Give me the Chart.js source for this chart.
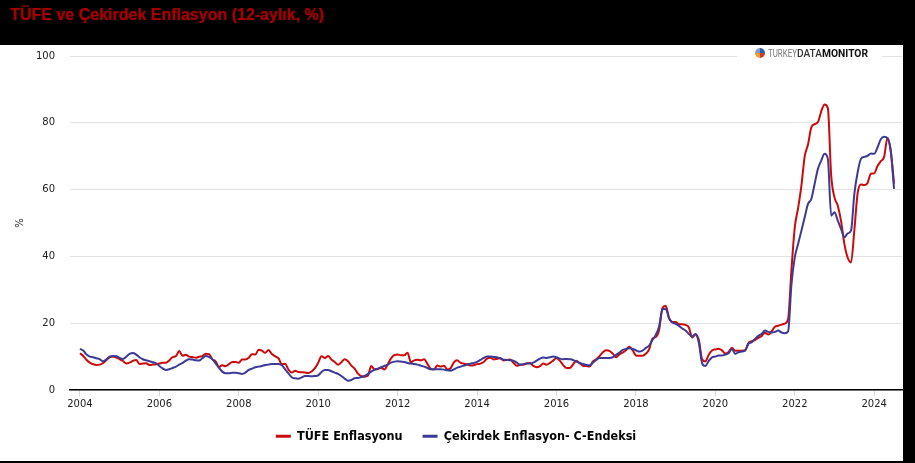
<!DOCTYPE html>
<html>
<head>
<meta charset="utf-8">
<script src="https://cdn.jsdelivr.net/npm/chart.js@4.4.1/dist/chart.umd.min.js"></script>
<style>
  html, body { margin: 0; padding: 0; background: #000; }
  body { width: 915px; height: 463px; position: relative; overflow: hidden; }
  #title {
    position: absolute; left: 10px; top: 6px;
    font: bold 16px "Liberation Sans", Arial, sans-serif;
    color: #a40000; text-shadow: 0 0 1px #500;
  }
  #panel { position: absolute; left: 0; top: 45px; width: 903px; height: 416px; background: #fff; }
</style>
</head>
<body>
<div id="title">TÜFE ve Çekirdek Enflasyon (12-aylık, %)</div>
<div id="panel"><canvas id="infChart" width="903" height="416"></canvas></div>
<script>
var startYear = 2004;
var xTicks = [2004, 2006, 2008, 2010, 2012, 2014, 2016, 2018, 2020, 2022, 2024];
var yTicks = [0, 20, 40, 60, 80, 100];

// TÜFE Enflasyonu, aylık, Ocak 2004 - Temmuz 2024
var tufe = [
  11.0, 10.2, 9.0, 8.2, 7.7, 7.5, 7.6, 8.1, 9.0, 9.8, 10.0, 9.7,
  9.24, 8.69, 7.94, 8.18, 8.70, 8.95, 7.82, 7.91, 7.99, 7.52, 7.61, 7.72,
  7.93, 8.15, 8.16, 8.83, 9.86, 10.12, 11.69, 10.26, 10.55, 9.98, 9.86, 9.65,
  9.93, 10.16, 10.86, 10.72, 9.23, 8.60, 6.90, 7.39, 7.12, 7.70, 8.40, 8.39,
  8.17, 9.10, 9.15, 9.66, 10.74, 10.61, 12.06, 11.77, 11.13, 11.99, 10.76, 10.06,
  9.50, 7.73, 7.89, 6.13, 5.24, 5.73, 5.39, 5.33, 5.27, 5.08, 5.53, 6.53,
  8.19, 10.13, 9.56, 10.19, 9.10, 8.37, 7.58, 8.33, 9.24, 8.62, 7.29, 6.40,
  4.90, 4.16, 3.99, 4.26, 7.17, 6.24, 6.31, 6.65, 6.15, 7.66, 9.48, 10.45,
  10.61, 10.43, 10.43, 11.14, 8.28, 8.87, 9.07, 8.88, 9.19, 7.80, 6.37, 6.16,
  7.31, 7.03, 7.29, 6.13, 6.51, 8.30, 8.88, 8.17, 7.88, 7.71, 7.32, 7.40,
  7.75, 7.89, 8.39, 9.38, 9.66, 9.16, 9.32, 9.54, 8.86, 8.96, 9.15, 8.17,
  7.24, 7.55, 7.61, 7.91, 8.09, 7.20, 6.81, 7.14, 7.95, 7.58, 8.10, 8.81,
  9.58, 8.78, 7.46, 6.57, 6.58, 7.64, 8.79, 8.05, 7.28, 7.16, 7.00, 8.53,
  9.22, 10.13, 11.29, 11.87, 11.72, 10.90, 9.79, 10.68, 11.20, 11.90, 12.98, 11.92,
  10.35, 10.26, 10.23, 10.85, 12.15, 15.39, 15.85, 17.90, 24.52, 25.24, 21.62, 20.30,
  20.35, 19.67, 19.71, 19.50, 18.71, 15.72, 16.65, 15.01, 9.26, 8.55, 10.56, 11.84,
  12.15, 12.37, 11.86, 10.94, 11.39, 12.62, 11.76, 11.77, 11.75, 11.89, 14.03, 14.60,
  14.97, 15.61, 16.19, 17.14, 16.59, 17.53, 18.95, 19.25, 19.58, 19.89, 21.31, 36.08,
  48.69, 54.44, 61.14, 69.97, 73.50, 78.62, 79.60, 80.21, 83.45, 85.51, 84.39, 64.27,
  57.68, 55.18, 50.51, 43.68, 39.59, 38.21, 47.83, 58.94, 61.53, 61.36, 61.98, 64.77,
  64.86, 67.07, 68.50, 69.80, 75.45, 71.60, 61.78
];

// Çekirdek Enflasyon (C endeksi)
var cekirdek = [
  12.3, 11.8, 10.6, 10.0, 9.8, 9.5, 9.2, 8.6, 9.2, 10.0, 10.2, 10.1,
  9.6, 9.3, 10.0, 10.8, 11.1, 10.6, 9.8, 9.2, 8.9, 8.6, 8.3, 8.0,
  7.2, 6.5, 6.0, 6.2, 6.6, 7.0, 7.6, 8.1, 8.8, 9.2, 9.1, 8.9,
  8.8, 9.5, 10.2, 9.9, 9.2, 8.0, 6.6, 5.5, 5.0, 5.0, 5.2, 5.2,
  5.0, 4.8, 5.2, 6.0, 6.4, 6.8, 7.0, 7.2, 7.5, 7.6, 7.8, 7.8,
  7.8, 7.4, 6.2, 5.0, 3.8, 3.5, 3.4, 3.8, 4.2, 4.2, 4.1, 4.2,
  4.4, 5.4, 6.0, 6.0, 5.6, 5.2, 4.8, 4.2, 3.4, 2.8, 3.0, 3.5,
  3.6, 3.9, 4.2, 4.8, 5.5, 6.0, 6.4, 6.8, 7.2, 7.6, 8.2, 8.5,
  8.6, 8.5, 8.4, 8.1, 7.9, 7.8, 7.6, 7.3, 7.0, 6.6, 6.2, 6.2,
  6.2, 6.2, 6.1, 5.9, 5.8, 6.2, 6.7, 7.0, 7.3, 7.6, 7.9, 8.1,
  8.4, 9.0, 9.6, 10.0, 10.0, 9.9, 9.8, 9.5, 9.1, 9.0, 8.9, 8.8,
  8.2, 7.6, 7.7, 8.0, 7.9, 8.2, 8.8, 9.4, 9.7, 9.6, 9.8, 10.0,
  9.8, 9.4, 9.2, 9.3, 9.2, 9.0, 8.5, 8.1, 7.8, 7.5, 7.4, 8.2,
  9.0, 9.6, 9.6, 9.6, 9.6, 9.8, 10.5, 11.2, 12.0, 12.3, 12.5, 12.3,
  11.9, 11.5, 11.8, 12.6, 13.3, 15.0, 16.5, 19.0, 24.1, 24.3, 21.5, 20.3,
  19.8, 19.2, 18.4, 17.8, 16.8, 16.0, 16.8, 14.2, 8.0, 7.2, 8.7, 9.8,
  10.0, 10.3, 10.3, 10.6, 11.0, 12.3, 10.8, 11.3, 11.5, 11.8, 13.8, 14.3,
  15.3, 16.2, 16.8, 17.8, 17.4, 17.2, 17.4, 17.8, 17.2, 17.0, 17.6, 31.7,
  39.7, 43.7, 47.7, 51.7, 55.7, 57.2, 61.7, 66.2, 68.7, 70.7, 69.2, 52.2,
  53.2, 50.7, 48.2, 45.7, 46.9, 47.7, 58.7, 65.2, 69.2, 69.8, 70.1, 70.8,
  70.7, 72.6, 75.1, 75.8, 75.4, 71.6, 60.2
];

// month positions on the year axis (Jan 2004 = 2004.0)
function toPoints(values){
    var pts = [];
    for(var i = 0; i < values.length; i++){
        pts.push({x: startYear + i / 12, y: values[i]});
    }
    return pts;
}

var logoPlugin = {
    id: 'logo',
    afterDraw: function(chart){
        var c = chart.ctx;
        c.save();
        c.fillStyle = '#fff';
        c.fillRect(737, 0, 145, 18);
        // icon
        var cx = 760, cy = 8, r = 5;
        var cols = ['#2f5fa8', '#d23a2a', '#f0a030', '#8a9ac8'];
        for(var k = 0; k < 4; k++){
            c.beginPath();
            c.moveTo(cx, cy);
            c.arc(cx, cy, r, k * Math.PI / 2 - Math.PI / 2, (k + 1) * Math.PI / 2 - Math.PI / 2);
            c.closePath();
            c.fillStyle = cols[k];
            c.fill();
        }
        c.textBaseline = 'alphabetic';
        c.font = '400 11px Roboto';
        c.fillStyle = '#777';
        c.fillText('TURKEY', 768, 12, 29);
        c.font = '500 11px Roboto';
        c.fillStyle = '#333';
        c.fillText('DATA', 797, 12, 25);
        c.font = 'bold 11px Roboto';
        c.fillStyle = '#111';
        c.fillText('MONITOR', 822, 12, 46);
        c.restore();
    }
};

var ctx = document.getElementById('infChart').getContext('2d');
var chart = new Chart(ctx, {
    type: 'line',
    data: {
        datasets: [{
            label: 'TÜFE Enflasyonu',
            data: toPoints(tufe),
            borderColor: '#cc0a0a',
            backgroundColor: '#cc0a0a',
            borderWidth: 2,
            pointRadius: 0,
            cubicInterpolationMode: 'monotone',
            order: 1
        }, {
            label: 'Çekirdek Enflasyon- C-Endeksi',
            data: toPoints(cekirdek),
            borderColor: '#3d3a96',
            backgroundColor: '#3d3a96',
            borderWidth: 2,
            pointRadius: 0,
            cubicInterpolationMode: 'monotone',
            order: 0
        }]
    },
    options: {
        responsive: false,
        animation: false,
        layout: { padding: { top: 11, right: 1, left: 10, bottom: 8.5 } },
        plugins: {
            tooltip: { enabled: false },
            legend: {
                position: 'bottom',
                labels: {
                    boxWidth: 15,
                    boxHeight: 3,
                    padding: 20,
                    color: '#222',
                    font: { family: 'DejaVu Sans Condensed', weight: 'bold', size: 12.5 },
                    generateLabels: function(ch){
                        return ch.data.datasets.map(function(ds, i){
                            return { text: ds.label, fillStyle: ds.borderColor, strokeStyle: ds.borderColor,
                                     lineWidth: 0, datasetIndex: i, hidden: false };
                        });
                    }
                }
            }
        },
        scales: {
            x: {
                type: 'linear',
                min: 2003.75,
                max: 2024.7,
                afterBuildTicks: function(axis){
                    axis.ticks = xTicks.map(function(v){ return {value: v}; });
                },
                afterFit: function(axis){ axis.height = 20; },
                ticks: {
                    autoSkip: false,
                    maxRotation: 0,
                    padding: 2,
                    color: '#222',
                    font: { family: 'DejaVu Sans', size: 10 },
                    callback: function(v){ return String(v); }
                },
                grid: { drawOnChartArea: false, drawTicks: true, tickLength: 6, color: '#d8d8d8' },
                border: { display: true, color: '#000', width: 1.5 }
            },
            y: {
                min: 0,
                max: 100,
                afterBuildTicks: function(axis){
                    axis.ticks = yTicks.map(function(v){ return {value: v}; });
                },
                afterFit: function(axis){ axis.width = 60; },
                ticks: {
                    padding: 3,
                    color: '#222',
                    font: { family: 'DejaVu Sans', size: 10 }
                },
                grid: { drawTicks: true, tickLength: 12, tickColor: 'rgba(0,0,0,0)', color: '#e2e2e2', lineWidth: 1 },
                border: { display: false },
                title: {
                    display: true,
                    text: '%',
                    color: '#222',
                    font: { family: 'DejaVu Sans', size: 10 },
                    padding: { top: 4, bottom: 0 }
                }
            }
        }
    },
    plugins: [logoPlugin]
});
</script>
</body>
</html>
